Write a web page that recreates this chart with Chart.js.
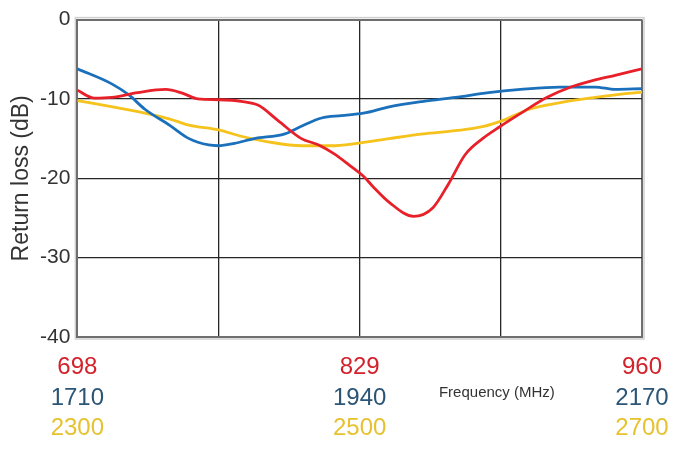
<!DOCTYPE html>
<html>
<head>
<meta charset="utf-8">
<script src="https://cdn.jsdelivr.net/npm/chart.js@4"></script>
<style>
  html, body { margin: 0; padding: 0; background: #ffffff; }
  #wrap { width: 681px; height: 449px; position: relative; }
</style>
</head>
<body>
<div id="wrap"><canvas id="c"></canvas></div>
<script>
// ---- Data ----
const redFreq  = [698, 706, 714, 726, 739, 747, 754, 764, 774, 782, 791, 802, 810, 817, 824, 831, 835, 843, 854, 863, 870, 878, 886, 894, 905, 916, 927, 937, 948, 960];
const redLoss  = [-8.9, -9.9, -9.8, -9.2, -8.8, -9.3, -10.0, -10.1, -10.3, -10.8, -12.7, -15.0, -15.8, -16.9, -18.3, -19.8, -21.0, -23.1, -24.8, -23.7, -20.8, -17.0, -15.0, -13.5, -11.6, -9.8, -8.5, -7.7, -7.0, -6.2];

const blueFreq = [1710, 1738, 1752, 1765, 1785, 1801, 1817, 1825, 1838, 1854, 1879, 1893, 1909, 1925, 1943, 1964, 1992, 2018, 2045, 2071, 2103, 2132, 2148, 2170];
const blueLoss = [-6.2, -8.1, -9.5, -11.3, -13.3, -15.0, -15.8, -15.9, -15.6, -15.0, -14.4, -13.4, -12.4, -12.1, -11.8, -11.0, -10.3, -9.8, -9.2, -8.8, -8.5, -8.5, -8.8, -8.7];

const yellowFreq = [2300, 2325, 2351, 2365, 2379, 2400, 2416, 2435, 2459, 2480, 2498, 2521, 2545, 2568, 2587, 2603, 2620, 2644, 2667, 2690, 2700];
const yellowLoss = [-10.2, -11.0, -11.9, -12.5, -13.3, -13.9, -14.7, -15.4, -15.9, -15.9, -15.6, -15.0, -14.4, -14.0, -13.5, -12.6, -11.3, -10.4, -9.8, -9.3, -9.15];

const redTicks    = [698, 829, 960];
const blueTicks   = [1710, 1940, 2170];
const yellowTicks = [2300, 2500, 2700];
const yTicks      = [0, -10, -20, -30, -40];

const yTitle = 'Return loss (dB)';
const xTitle = 'Frequency (MHz)';

// ---- Build ----
function pts(xs, ys) { return xs.map((x, i) => ({ x: x, y: ys[i] })); }

const FONT = "'Liberation Sans', Arial, sans-serif";

function bandAxis(ticks, color, weight, pad, boxHeight, grid) {
  const mn = ticks[0], mx = ticks[ticks.length - 1];
  return {
    type: 'linear',
    position: 'bottom',
    weight: weight,
    min: mn,
    max: mx,
    afterBuildTicks: (scale) => {
      if (grid) {
        const q = (mx - mn) / 4;
        scale.ticks = [0, 1, 2, 3, 4].map(i => ({ value: mn + q * i }));
      } else {
        scale.ticks = ticks.map(v => ({ value: v }));
      }
    },
    afterFit: (scale) => { scale.height = boxHeight; },
    grid: {
      display: grid,
      drawTicks: false,
      color: (ctx) => (ctx.index === 0 || ctx.index === 4) ? '#6e6e6e' : '#262626',
      lineWidth: (ctx) => (ctx.index === 0 || ctx.index === 4) ? 2 : 1.3
    },
    border: { display: grid, color: '#6e6e6e', width: 2 },
    ticks: {
      color: color,
      padding: pad,
      maxRotation: 0,
      autoSkip: false,
      font: { family: FONT, size: 24, lineHeight: 1.25 },
      callback: function (value, index) {
        if (grid) {
          return (index % 2 === 0) ? String(ticks[index / 2]) : '';
        }
        return String(ticks[index]);
      }
    }
  };
}

const framePlugin = {
  id: 'frame',
  beforeDraw(chart) {
    const a = chart.chartArea, ctx = chart.ctx;
    ctx.save();
    ctx.strokeStyle = '#cfcfcf';
    ctx.lineWidth = 1.5;
    ctx.strokeRect(a.left - 2, a.top - 2, a.right - a.left + 4, a.bottom - a.top + 4);
    ctx.restore();
  }
};

const freqLabelPlugin = {
  id: 'freqLabel',
  afterDraw(chart) {
    const a = chart.chartArea, ctx = chart.ctx;
    ctx.save();
    ctx.font = "15px " + FONT;
    ctx.fillStyle = '#333333';
    ctx.textAlign = 'center';
    ctx.textBaseline = 'middle';
    ctx.fillText(xTitle, a.left + (a.right - a.left) * 0.743, a.bottom + 56);
    ctx.restore();
  }
};

new Chart(document.getElementById('c'), {
  type: 'line',
  data: {
    datasets: [
      { label: '698-960', data: pts(redFreq, redLoss), xAxisID: 'xRed', yAxisID: 'y',
        borderColor: '#e8202a', borderWidth: 2.8, pointRadius: 0, fill: false, cubicInterpolationMode: 'monotone' },
      { label: '1710-2170', data: pts(blueFreq, blueLoss), xAxisID: 'xBlue', yAxisID: 'y',
        borderColor: '#1b70bb', borderWidth: 2.8, pointRadius: 0, fill: false, cubicInterpolationMode: 'monotone' },
      { label: '2300-2700', data: pts(yellowFreq, yellowLoss), xAxisID: 'xYellow', yAxisID: 'y',
        borderColor: '#f6c21c', borderWidth: 2.8, pointRadius: 0, fill: false, cubicInterpolationMode: 'monotone' }
    ]
  },
  options: {
    responsive: true,
    maintainAspectRatio: false,
    animation: false,
    devicePixelRatio: 1,
    layout: { padding: { left: 10, right: 39, top: 4, bottom: 9 } },
    plugins: { legend: { display: false }, tooltip: { enabled: false } },
    scales: {
      xRed: bandAxis(redTicks, '#d3222c', 0, 15, 41, true),
      xBlue: bandAxis(blueTicks, '#2c5575', 1, 5, 30, false),
      xYellow: bandAxis(yellowTicks, '#e6c22e', 2, 5, 32, false),
      y: {
        type: 'linear',
        min: -40,
        max: 0,
        afterBuildTicks: (scale) => { scale.ticks = yTicks.map(v => ({ value: v })); },
        grid: {
          drawTicks: false,
          color: (ctx) => (ctx.tick.value === 0 || ctx.tick.value === -40) ? '#6e6e6e' : '#262626',
          lineWidth: (ctx) => (ctx.tick.value === 0 || ctx.tick.value === -40) ? 2 : 1.3
        },
        border: { display: true, color: '#6e6e6e', width: 2 },
        ticks: {
          color: '#333333',
          padding: 7,
          font: { family: FONT, size: 21 },
          callback: (v) => String(v)
        },
        title: {
          display: true,
          text: yTitle,
          color: '#333333',
          padding: { top: 0, bottom: 0 },
          font: { family: FONT, size: 23, lineHeight: 1.0 }
        }
      }
    }
  },
  plugins: [framePlugin, freqLabelPlugin]
});
</script>
</body>
</html>
